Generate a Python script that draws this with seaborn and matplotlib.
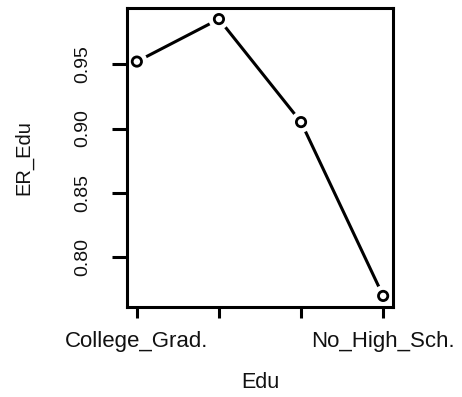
import matplotlib
matplotlib.use("Agg")
import matplotlib.pyplot as plt
import seaborn as sns
import pandas as pd

edu_levels = ["College_Grad.", "Some_College", "HS_Grad.", "No_High_Sch."]
er_edu = [0.952, 0.985, 0.905, 0.770]
tick_labels = ["College_Grad.", "", "", "No_High_Sch."]
y_ticks = [0.80, 0.85, 0.90, 0.95]
y_tick_labels = ["0.80", "0.85", "0.90", "0.95"]

sns.set_theme(style="white")
plt.rcParams["font.family"] = ["Liberation Sans", "DejaVu Sans"]
plt.rcParams["text.color"] = "#111111"
plt.rcParams["axes.labelcolor"] = "#111111"
plt.rcParams["xtick.color"] = "black"
plt.rcParams["ytick.color"] = "black"
plt.rcParams["xtick.labelcolor"] = "#111111"
plt.rcParams["ytick.labelcolor"] = "#111111"

df = pd.DataFrame({"Edu": edu_levels, "ER_Edu": er_edu})

fig = plt.figure(figsize=(4.62, 3.97), dpi=100)
ax = fig.add_axes([127/462, 1-307/397, (393-127)/462, (307-8)/397])

sns.lineplot(data=df, x="Edu", y="ER_Edu", ax=ax, color="black", lw=2.2, sort=False, zorder=1)
sns.scatterplot(data=df, x="Edu", y="ER_Edu", ax=ax, s=230, color="white", edgecolor="none", zorder=2)
sns.scatterplot(data=df, x="Edu", y="ER_Edu", ax=ax, s=45, facecolor="none", edgecolor="black", linewidth=2.0, zorder=3)

ax.set_xlim(-0.12, 3.12)
rng = max(er_edu) - min(er_edu)
ax.set_ylim(min(er_edu) - 0.04*rng, max(er_edu) + 0.04*rng)

ax.set_xticks(range(len(edu_levels)))
ax.set_xticklabels(tick_labels, fontsize=16)
ax.set_yticks(y_ticks)
ax.set_yticklabels(y_tick_labels, fontsize=14, rotation=90, va="center", ha="right")

ax.tick_params(axis="x", direction="out", length=8, width=2.2, pad=9, bottom=True)
ax.tick_params(axis="y", direction="out", length=11, width=2.2, pad=15, left=True)

for sp in ax.spines.values():
    sp.set_visible(True)
    sp.set_color("black")
    sp.set_linewidth(2.2)

ax.set_xlabel("Edu", fontsize=15.5, labelpad=15)
ax.set_ylabel("ER_Edu", fontsize=14.5, labelpad=29)
ax.grid(False)
ax.set_facecolor("white")

fig.savefig("out.png", dpi=100)
